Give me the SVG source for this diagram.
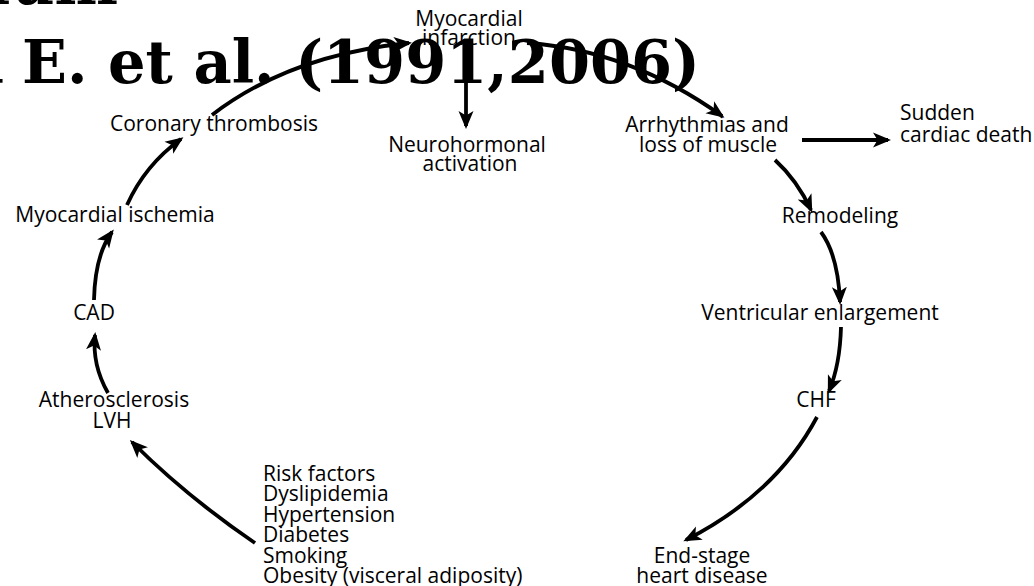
<svg xmlns="http://www.w3.org/2000/svg" width="1034" height="586" viewBox="0 0 1034 586">
<defs>
<marker id="ah" markerUnits="userSpaceOnUse" markerWidth="18" markerHeight="16" viewBox="0 0 18 16" refX="15" refY="8" orient="auto">
<path d="M0,0.5 L18,8 L0,15.5 L4.5,8 z" fill="#000"/>
</marker>
</defs>
<style>
.t{font-family:"Open Sans","Liberation Sans",sans-serif;font-size:21px;font-weight:500;fill:#000}
.m{text-anchor:middle}
.c{stroke:#000;stroke-width:3.8;fill:none;marker-end:url(#ah)}
.title{font-family:"DejaVu Serif","Liberation Serif",serif;font-weight:bold;font-size:60px;fill:#000}
</style>
<rect width="1034" height="586" fill="#fff"/>
<g id="connectors">
<path class="c" d="M212,115 Q290,55 409,43"/>
<path class="c" d="M527,43 Q630,50 722,116"/>
<path class="c" d="M466,48 L466,126"/>
<path class="c" d="M802,140 L888,140"/>
<path class="c" d="M775,160 Q797,180 811,210"/>
<path class="c" d="M821,232 Q838,255 840,302"/>
<path class="c" d="M841,327 Q840,365 829,391"/>
<path class="c" d="M817,417 Q776,494 686,540"/>
<path class="c" d="M255,543 Q186,496 132,442"/>
<path class="c" d="M108,393 Q92,365 95,335"/>
<path class="c" d="M94,300 Q95,255 112,232"/>
<path class="c" d="M127,205 Q145,165 181,139"/>
</g>
<g id="n-mi"><text class="t m" x="469" y="26">Myocardial</text><text class="t m" x="469" y="45">infarction</text></g>
<g id="n-neuro"><text class="t m" x="467" y="152">Neurohormonal</text><text class="t m" x="470" y="171">activation</text></g>
<g id="n-arr"><text class="t m" x="707" y="132">Arrhythmias and</text><text class="t m" x="708" y="152">loss of muscle</text></g>
<g id="n-scd"><text class="t" x="900" y="120">Sudden</text><text class="t" x="900" y="142">cardiac death</text></g>
<g id="n-rem"><text class="t m" x="840" y="223">Remodeling</text></g>
<g id="n-ve"><text class="t m" x="820" y="320">Ventricular enlargement</text></g>
<g id="n-chf"><text class="t m" x="816" y="407">CHF</text></g>
<g id="n-end"><text class="t m" x="702" y="563">End-stage</text><text class="t m" x="702" y="583">heart disease</text></g>
<g id="n-risk">
<text class="t" x="263" y="481">Risk factors</text>
<text class="t" x="263" y="501">Dyslipidemia</text>
<text class="t" x="263" y="522">Hypertension</text>
<text class="t" x="263" y="542">Diabetes</text>
<text class="t" x="263" y="563">Smoking</text>
<text class="t" x="263" y="583">Obesity (visceral adiposity)</text>
</g>
<g id="n-ath"><text class="t m" x="114" y="407">Atherosclerosis</text><text class="t m" x="112" y="428">LVH</text></g>
<g id="n-cad"><text class="t m" x="94" y="320">CAD</text></g>
<g id="n-isch"><text class="t m" x="115" y="222">Myocardial ischemia</text></g>
<g id="n-ct"><text class="t m" x="214" y="131">Coronary thrombosis</text></g>
<g id="title">
<text class="title" x="118" y="4" text-anchor="end">Cardiovascular Continuum</text>
<text class="title" x="4" y="83" text-anchor="end">Dzau V, Braunwald</text>
<text class="title" x="22" y="83" textLength="678" lengthAdjust="spacingAndGlyphs">E. et al. (1991,2006)</text>
</g>
</svg>
